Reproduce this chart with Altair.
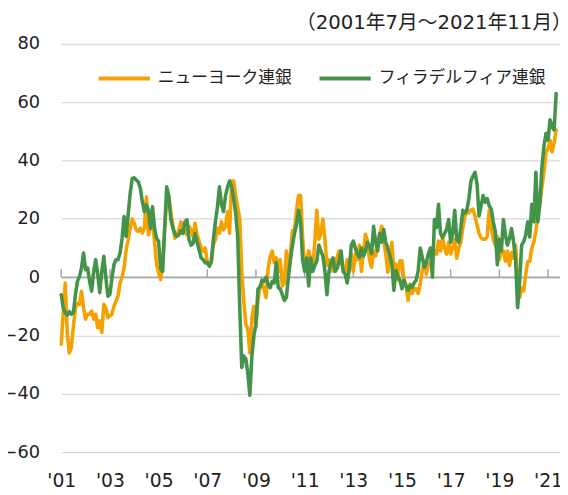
import json
import altair as alt
import pandas as pd

# ---- data (monthly, 2001-07 .. 2021-11) ----
START_YEAR, START_MONTH = 2001, 7
series_names = ["ニューヨーク連銀", "フィラデルフィア連銀"]
series_colors = ["#F5A200", "#43944A"]

ny_values = [
    -23, -12, -2, -19.5, -26, -24,
    -17, -10.5, -9, -9.3, -4.8, -10.5, -14.4, -12.7, -12.7, -11.6, -14.4, -12.7,
    -17.3, -15, -19, -9.3, -10.5, -13.9, -13.3, -12.7, -9.9, -8.2, -6.5, -2,
    0, 3.2, 9.4, 12.8, 16.8, 20, 18.5, 16.2, 15.7, 16.8, 15.1, 16.8,
    27.6, 14.5, 17.4, 18.5, 12.3, 4.3, 1.5, -0.8, 5.5, 16.8, 26, 28,
    22.5, 18, 13.4, 14.5, 16.2, 19, 15.1, 16.2, 14.5, 17.4, 16.2, 14,
    18.5, 14.5, 12.3, 10, 8.9, 10, 5.5, 3.8, 4.9, 11.1, 12.8, 16.8,
    15.1, 19, 16.2, 17.4, 22.5, 15.1, 33, 33, 28, 24, 20, 2,
    -8, -16, -18, -26, -14, -10, -17, -8, -3, -2, -4, -7,
    3, 7, 9, 5, 6.6, 2, 6, -3, -2, 9, 1, 8,
    16, 16, 23, 28, 28, 14, 4, 5.5, 9, 6, 3, 12,
    23, 13, 15, 20, 13, 4, 6, 2, 6, 2, 7, 9,
    5, 3, 2, 6, 2, 8, 2, 8, 6, 11, 2, 9,
    14.7, 12.4, 6, 3.4, 9, 7.3, 11.3, 14.7, 17.5, 12.4, 7.9, 1.7,
    7, 12, 2.3, 4.5, -1, 5.6, 5.6, -1, -2.8, -7.9, -2.3, -5.6,
    -4, -4, -5.6, -2.3, 2.3, 5.6, 1, 4.5, 5, 6.2, 9, 7.9,
    12.4, 9, 13.6, 10, 7.9, 12, 8, 10, 13, 6.5, 10, 12,
    17, 21, 22, 22, 23, 23.4, 21, 18, 15, 13.5, 13, 13,
    14, 23, 17, 13, 11, 14, 6, 9, 9, 5.5, 9, 4,
    8.5, 6.5, 11, 0, -7, -3.6, -4.7, 1, 5.4, 5.4, 10, 12,
    16, 21, 25, 31, 36, 43, 44, 47, 43, 46, 50.5,
]

philly_values = [
    -6, -10.5, -12.2, -13, -11.8, -12.7,
    -12.2, -5.9, -1.4, 0.3, 3.2, 8.3, 2.6, 3.2, -1.4, -4.8, 2, 6,
    0.9, -5.3, 2, 7.2, -0.2, -6.5, -5.9, -0.2, 4.3, 6, 6, 8.3,
    13.4, 20.8, 14, 21.4, 28.8, 33.9, 34.1, 33.3, 32.7, 30.5, 25.9, 22.5,
    24.8, 23, 16.8, 24.2, 16.8, 13.4, 12.3, 3, 2, 16.8, 31, 28,
    20, 17, 15, 14, 14.5, 16, 15, 19, 19.7, 13, 11, 11.6,
    15, 12, 9.3, 6.6, 6, 4.9, 5, 3.8, 5.5, 13, 19, 24,
    31, 25, 22.5, 28, 31, 33, 31, 27, 22, 14, -10, -31,
    -27, -28, -33, -40.5, -27, -20, -16, -4, -3.5, -1, -1.4, 0,
    -2.5, -3.6, -1.4, -2, 5, -3.6, -4, -6, -8, -7, 0, 6,
    11, 15, 18, 23, 19, 6, 2, 6.6, -3, 6.6, 2, 4,
    5.5, 11, 9, 7.3, 2, -6, 2, 5, 6.6, 2, 3, 5.5,
    9, 2, 1, -2, 3, 11, 12.4, 10, 8, 6.8, 10, 7.3,
    9, 12, 10.7, 8, 17.5, 12, 9, 15, 12, 16.4, 12, 10,
    7.3, 4.5, -4.5, 2.3, 0, -1, -4, -1, -3, -4.5, -2.8, -3.4,
    -2, -1, 2.3, 10, 6.8, 3.4, 5, 8, 10, 0, 19.8, 17,
    25, 15, 13.6, 15, 16.4, 19.8, 12, 15, 23, 13, 12, 17,
    23, 22, 23, 27, 33, 34.7, 36, 32, 21, 24.5, 28, 25.7,
    27, 24.5, 23.4, 19, 15.6, 4.3, 13, 9, 19.8, 14.4, 11, 13.3,
    16.7, 12.2, 6, -10.4, -1.4, 11, 12.2, 14.4, 19, 13.8, 25, 19,
    36, 19, 25.7, 38, 45, 49.4, 47, 54, 51.6, 50.5, 63,
]

tick_labels = ["'01", "'03", "'05", "'07", "'09", "'11", "'13", "'15", "'17", "'19", "'21"]
tick_step_months = 24
y_ticks = [-60, -40, -20, 0, 20, 40, 60, 80]
title_text = "（2001年7月～2021年11月）"

# ---- build table ----
n = len(ny_values)
months = [f"{START_YEAR + (START_MONTH - 1 + i) // 12}-{(START_MONTH - 1 + i) % 12 + 1:02d}" for i in range(n)]
df = pd.DataFrame({
    "t": list(range(n)) * 2,
    "month": months * 2,
    "value": ny_values + philly_values,
    "series": [series_names[0]] * n + [series_names[1]] * n,
})
tick_pos = [i * tick_step_months for i in range(len(tick_labels))]
ticks_df = pd.DataFrame({"t": tick_pos, "value": [0] * len(tick_pos), "top": [2.7] * len(tick_pos)})
zero_df = pd.DataFrame({"value": [0]})

x_scale = alt.Scale(domain=[0, 245.9], nice=False, zero=False)
y_scale = alt.Scale(domain=[-60, 80], nice=False, zero=False)
color_scale = alt.Scale(domain=series_names, range=series_colors)

label_expr = json.dumps(tick_labels) + f"[round(datum.value / {tick_step_months})]"

x_axis = alt.Axis(
    values=tick_pos, labelExpr=label_expr, domain=False, ticks=False, grid=False,
    labelFont="DejaVu Sans", labelFontSize=19, labelColor="#222222",
    labelPadding=20, title=None, labelFlush=False,
)
y_axis = alt.Axis(
    values=y_ticks, grid=True, gridColor="#D9D9D9", gridWidth=1.3, domain=False,
    ticks=False, labelFont="DejaVu Sans", labelFontSize=18, labelColor="#222222",
    labelPadding=22, title=None,
)

zero_rule = alt.Chart(zero_df).mark_rule(color="#A6A6A6", strokeWidth=1.5).encode(
    y=alt.Y("value:Q", scale=y_scale, axis=y_axis)
)
tick_rules = alt.Chart(ticks_df).mark_rule(color="#A6A6A6", strokeWidth=1.5).encode(
    x=alt.X("t:Q", scale=x_scale, axis=x_axis),
    y=alt.Y("value:Q", scale=y_scale, axis=y_axis),
    y2="top:Q",
)

base = alt.Chart(df).mark_line(strokeWidth=3.6, strokeJoin="round", strokeCap="round").encode(
    x=alt.X("t:Q", scale=x_scale, axis=x_axis),
    y=alt.Y("value:Q", scale=y_scale, axis=y_axis),
    color=alt.Color(
        "series:N",
        scale=color_scale,
        legend=alt.Legend(
            orient="none", legendX=36, legendY=7, direction="horizontal", title=None,
            symbolType="stroke", symbolSize=2704, symbolStrokeWidth=4,
            labelFont="Noto Sans CJK JP", labelFontSize=17, labelColor="#222222",
            labelOffset=6, columnPadding=20, padding=0, labelLimit=400,
        ),
    ),
)

ny_line = base.transform_filter(alt.datum.series == series_names[0])
philly_line = base.transform_filter(alt.datum.series == series_names[1])

chart = alt.layer(zero_rule, tick_rules, ny_line, philly_line).properties(
    width=506,
    height=414,
    padding={"left": 54, "top": 33, "right": 0, "bottom": 40},
    autosize=alt.AutoSizeParams(type="none"),
    title=alt.TitleParams(
        text=title_text, anchor="end", frame="group", font="DejaVu Sans, Noto Sans CJK JP",
        fontSize=20, fontWeight="normal", color="#222222", offset=2, dx=12,
    ),
).configure_view(stroke=None)

chart.save("out.html", embed_options={"renderer": "svg", "actions": False})
